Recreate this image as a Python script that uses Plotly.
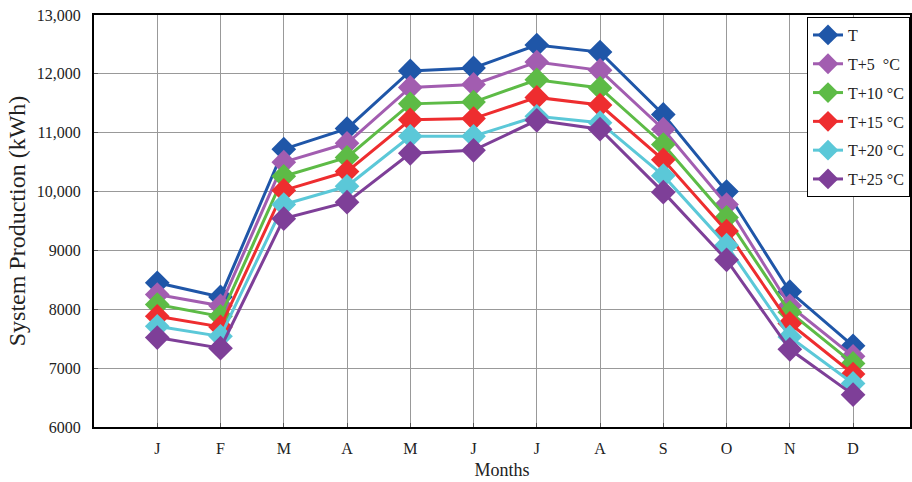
import plotly.graph_objects as go

months = ["J", "F", "M", "A", "M", "J", "J", "A", "S", "O", "N", "D"]
series_names = ["T", "T+5  \u00b0C", "T+10 \u00b0C", "T+15 \u00b0C", "T+20 \u00b0C", "T+25 \u00b0C"]
t0 = [8450, 8210, 10720, 11070, 12050, 12100, 12490, 12370, 11310, 10000, 8300, 7380]
t5 = [8250, 8060, 10500, 10820, 11770, 11820, 12200, 12060, 11060, 9780, 8060, 7200]
t10 = [8080, 7880, 10260, 10580, 11490, 11520, 11900, 11760, 10800, 9560, 7950, 7080]
t15 = [7880, 7700, 10020, 10340, 11220, 11240, 11600, 11470, 10540, 9330, 7760, 6900]
t20 = [7710, 7540, 9780, 10090, 10940, 10940, 11280, 11170, 10270, 9090, 7530, 6740]
t25 = [7520, 7340, 9540, 9820, 10650, 10700, 11210, 11060, 9990, 8840, 7320, 6550]
colors = ["#1f56a8", "#a25db0", "#5dbb46", "#ee2d2f", "#5bc8d8", "#7e3f98"]
ytickvals = [6000, 7000, 8000, 9000, 10000, 11000, 12000, 13000]
yticktext = ["6000", "7000", "8000", "9000", "10,000", "11,000", "12,000", "13,000"]

font = "Liberation Serif, Times New Roman, serif"
xs = list(range(len(months)))
fig = go.Figure()
for i, (name, vals, c) in enumerate(zip(series_names, [t0, t5, t10, t15, t20, t25], colors)):
    fig.add_trace(go.Scatter(
        x=xs, y=vals, name=name, mode="lines+markers", legendgroup=f"g{i}",
        line=dict(color=c, width=3),
        marker=dict(symbol="diamond", size=19, color=c, line=dict(width=0)),
    ))

fig.update_layout(
    width=912, height=482,
    margin=dict(l=94, r=0, t=15, b=55),
    paper_bgcolor="white", plot_bgcolor="white",
    font=dict(family=font, size=16, color="#222"),
    showlegend=True,
    legend=dict(
        x=1, y=0.995, xanchor="right", yanchor="top",
        bgcolor="white", bordercolor="black", borderwidth=1,
        font=dict(family=font, size=16, color="#222"),
        tracegroupgap=5, itemwidth=30,
    ),
    xaxis=dict(
        tickmode="array", tickvals=xs, ticktext=months,
        range=[-1, 11.9], showgrid=True, gridcolor="#999999", gridwidth=1,
        showline=True, linecolor="black", linewidth=2, mirror=True,
        ticks="inside", ticklen=4, tickcolor="#555", ticklabelstandoff=6,
        title=dict(text="Months", font=dict(family=font, size=18), standoff=7),
        zeroline=False,
    ),
    yaxis=dict(
        tickmode="array", tickvals=ytickvals, ticktext=yticktext,
        range=[6000, 13000], showgrid=True, gridcolor="#999999", gridwidth=1,
        showline=True, linecolor="black", linewidth=2, mirror=True,
        ticks="inside", ticklen=4, tickcolor="#555", ticklabelstandoff=8,
        title=dict(text="System Production (kWh)", font=dict(family=font, size=24), standoff=4),
        zeroline=False,
    ),
)
fig.write_html("out.html")
